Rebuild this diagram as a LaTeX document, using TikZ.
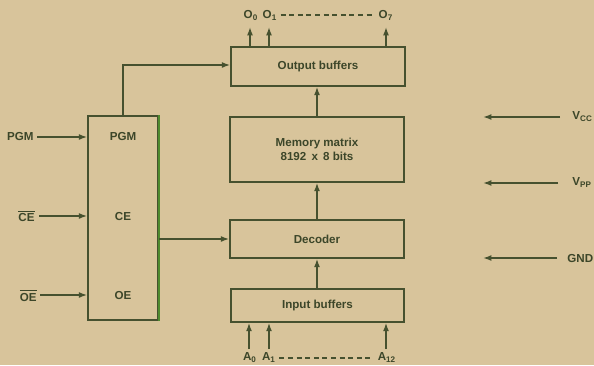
\documentclass[tikz,border=0pt]{standalone}
\usepackage{fontspec}
\setmainfont{Liberation Sans}
\usetikzlibrary{arrows.meta}
\definecolor{bg}{HTML}{D8C49B}
\definecolor{ink}{HTML}{46512F}
\definecolor{txt}{HTML}{3C4629}
\definecolor{grn}{HTML}{4F8A2E}
\begin{document}
\begin{tikzpicture}[x=0.5pt,y=-0.5pt,
  blk/.style={draw=ink,line width=0.8pt,rectangle,inner sep=0pt,text=txt,align=center,font=\fontsize{5.8}{7}\selectfont\bfseries},
  lbl/.style={text=txt,inner sep=0pt,font=\fontsize{5.8}{7}\selectfont\bfseries},
  conn/.style={draw=ink,line width=0.7pt},
  arr/.style={conn,-{Latex[length=4.2pt,width=3pt]}},
  dsh/.style={draw=ink,line width=0.6pt,dash pattern=on 2.5pt off 1.8pt}]
\fill[bg] (0,0) rectangle (594,365);
\useasboundingbox (0,0) rectangle (594,365);
% blocks
\node[blk,minimum width=87pt,minimum height=19.5pt] (out) at (318,66.5) {Output buffers};
\node[blk,minimum width=87pt,minimum height=32.5pt] (mem) at (317,149.5) {Memory matrix\\8192 \,x\, 8 bits};
\node[blk,minimum width=87pt,minimum height=19pt] (dec) at (317,239) {Decoder};
\node[blk,minimum width=86.5pt,minimum height=16.5pt] (inb) at (317.5,305.5) {Input buffers};
\node[blk,minimum width=35pt,minimum height=102pt] (ctl) at (123,218) {};
\draw[grn,line width=0.8pt] (ctl.north east) -- (ctl.south east);
\node[lbl] (cpgm) at (123,137) {PGM};
\node[lbl] (cce) at (123,217) {CE};
\node[lbl] (coe) at (123,295) {OE};
% left inputs
\node[lbl,anchor=east] (pgm) at (34,137) {PGM};
\node[lbl,anchor=east] (ce) at (35,216) {$\overline{\mbox{CE}}$};
\node[lbl,anchor=east] (oe) at (37,295) {$\overline{\mbox{OE}}$};
\draw[arr] (pgm.east) ++(3,0) -- (ctl.west |- pgm.east);
\draw[arr] (ce.east) ++(4,0) -- (ctl.west |- ce.east);
\draw[arr] (oe.east) ++(3,0) -- (ctl.west |- oe.east);
% control to output buffers and decoder
\coordinate (bend) at (123,65);
\draw[arr] (ctl.north -| bend) -- (bend) -- (out.west |- bend);
\draw[arr] (ctl.east |- dec.west) -- (dec.west);
% vertical chain
\coordinate (spine) at (317,0);
\draw[arr] (inb.north -| spine) -- (dec.south -| spine);
\draw[arr] (dec.north -| spine) -- (mem.south -| spine);
\draw[arr] (mem.north -| spine) -- (out.south -| spine);
% outputs
\node[lbl] (o0) at (251,15) {O\textsubscript{0}};
\node[lbl] (o1) at (270,15) {O\textsubscript{1}};
\node[lbl] (o7) at (386,15) {O\textsubscript{7}};
\draw[dsh] (o1.east) ++(3,0) -- ([xshift=-3pt]o7.west);
\coordinate (t0) at (250,27);
\coordinate (t1) at (269,27);
\coordinate (t7) at (386,27);
\draw[arr] (out.north -| t0) -- (t0);
\draw[arr] (out.north -| t1) -- (t1);
\draw[arr] (out.north -| t7) -- (t7);
% inputs
\node[lbl] (a0) at (250,358) {A\textsubscript{0}};
\node[lbl] (a1) at (269,358) {A\textsubscript{1}};
\node[lbl] (a12) at (387,358) {A\textsubscript{12}};
\draw[dsh] (a1.east) ++(3,0) -- ([xshift=-2pt]a12.west);
\coordinate (b0) at (249,349);
\coordinate (b1) at (269,349);
\coordinate (b12) at (386,349);
\draw[arr] (b0) -- (inb.south -| b0);
\draw[arr] (b1) -- (inb.south -| b1);
\draw[arr] (b12) -- (inb.south -| b12);
% supply pins
\node[lbl,anchor=west] (vcc) at (572,117) {V\textsubscript{CC}};
\node[lbl,anchor=west] (vpp) at (572,183) {V\textsubscript{PP}};
\node[lbl,anchor=west] (gnd) at (567,258) {GND};
\coordinate (hcc) at (483,117);
\coordinate (hpp) at (483,183);
\coordinate (hgnd) at (483,258);
\draw[arr,line width=0.9pt] ([xshift=-6pt]vcc.west) -- (hcc);
\draw[arr,line width=0.9pt] ([xshift=-7pt]vpp.west) -- (hpp);
\draw[arr,line width=0.9pt] ([xshift=-5pt]gnd.west) -- (hgnd);
\end{tikzpicture}
\end{document}
